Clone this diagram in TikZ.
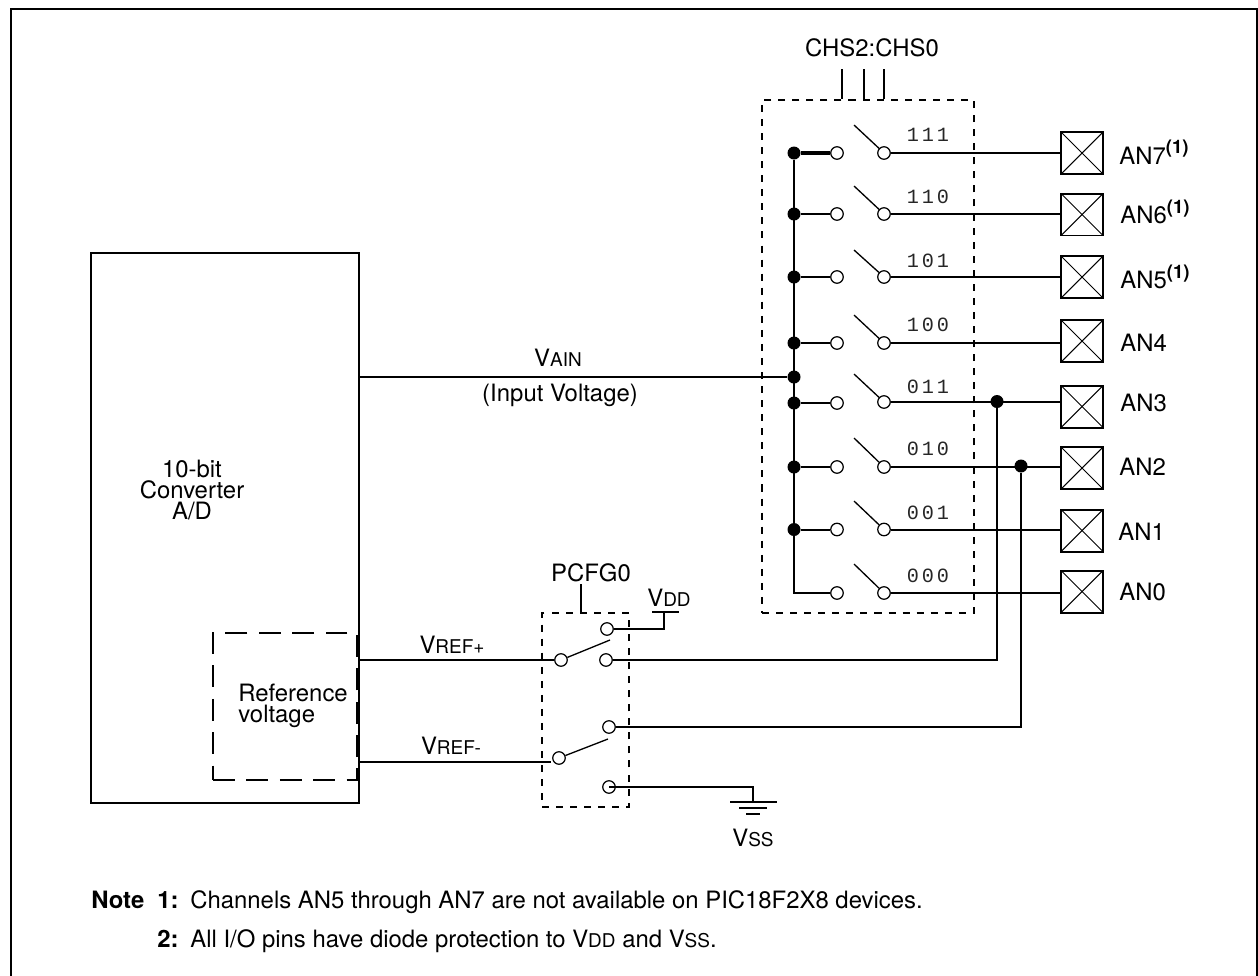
\documentclass[tikz,border=0pt]{standalone}
\usepackage{fontspec}
\setmainfont{TeX Gyre Heros}
\newfontfamily\codefont[LetterSpace=14]{Liberation Mono}
\usetikzlibrary{calc}
\newcommand{\volt}[1]{V{\fontsize{10.8}{10.8}\selectfont #1}}
\newcommand{\fnmark}{\raisebox{0.44em}{\fontsize{10.6}{10.6}\selectfont\bfseries (1)}}
\tikzset{
  wire/.style={line width=1.13pt},
  blade/.style={line width=0.75pt},
  gate/.style={line width=1.13pt, dash pattern=on 4pt off 4pt},
  dot/.style={circle, fill=black, inner sep=0pt, minimum size=0.26cm},
  open/.style={circle, draw, fill=white, line width=0.7pt, inner sep=0pt, minimum size=0.25cm},
  pad/.style={rectangle, draw, line width=1.13pt, inner sep=0pt, minimum width=0.84cm, minimum height=0.84cm,
    path picture={
      \draw[line width=0.6pt] (path picture bounding box.north west) -- (path picture bounding box.south east);
      \draw[line width=0.6pt] (path picture bounding box.south west) -- (path picture bounding box.north east);
    }},
  code/.style={font=\codefont\fontsize{11.5}{11.5}\selectfont, text=black!85, inner sep=0pt},
  txt/.style={inner sep=0pt, align=center, font=\fontsize{13.6}{11.7}\selectfont},
  pin/.style={txt, anchor=west},
  notetxt/.style={txt, anchor=base west},
}

\begin{document}
\begin{tikzpicture}[x=0.02cm, y=-0.02cm]
    \useasboundingbox (0,0) rectangle (1258,975);
    \fill[white] (0,0) rectangle (1258,975);
    \draw[line width=1.3pt] (11,985) -- (11,9) -- (1256.8,9) -- (1256.8,985);

    % converter
    \node[draw, wire, rectangle, minimum width=5.36cm, minimum height=11cm, inner sep=0pt] (adc) at (225,528) {};
    \node[txt] (adclabel) at (192,490) {10-bit\\Converter\\A/D};
    \node[draw, wire, rectangle, dash pattern=on 12.5pt off 6.5pt, minimum width=2.88cm, minimum height=2.94cm, inner sep=0pt] (refbox) at (285,706.5) {};
    \node[txt, align=left, anchor=west] (reflabel) at (238,706) {Reference\\voltage};

    % channel mux
    \node[draw, gate, rectangle, minimum width=4.24cm, minimum height=10.26cm, inner sep=0pt] (muxbox) at (868,356.5) {};
    \node[txt] (chs) at (872,48) {CHS2:CHS0};
    \coordinate (sa) at (842,69);
    \coordinate (sb) at (864,69);
    \coordinate (sc) at (884,69);
    \draw[wire] (sa) -- (sa |- muxbox.north);
    \draw[wire] (sb) -- (sb |- muxbox.north);
    \draw[wire] (sc) -- (sc |- muxbox.north);

    % channel 7
    \node[dot] (b7) at (794,153) {};
    \node[open] (l7) at (837,153) {};
    \node[open] (r7) at (884,153) {};
    \coordinate (t7) at (854,125);
    \node[code] (c7) at (928,135) {111};
    \node[pad] (p7) at (1082,153) {};
    \node[pin] (an7) at (1119,152) {AN7\fnmark};
    \draw[line width=1.8pt] (b7) -- (l7);
    \draw[blade] (t7) -- (r7);
    \draw[wire] (r7) -- (r7 -| p7.west);

    % channel 6
    \node[dot] (b6) at (794,214) {};
    \node[open] (l6) at (837,214) {};
    \node[open] (r6) at (884,214) {};
    \coordinate (t6) at (854,186);
    \node[code] (c6) at (928,197) {110};
    \node[pad] (p6) at (1082,214.5) {};
    \node[pin] (an6) at (1120,212) {AN6\fnmark};
    \draw[wire] (b6) -- (l6);
    \draw[blade] (t6) -- (r6);
    \draw[wire] (r6) -- (r6 -| p6.west);

    % channel 5
    \node[dot] (b5) at (794,277) {};
    \node[open] (l5) at (837,277) {};
    \node[open] (r5) at (884,277) {};
    \coordinate (t5) at (854,250);
    \node[code] (c5) at (928,261) {101};
    \node[pad] (p5) at (1082,277) {};
    \node[pin] (an5) at (1120,277) {AN5\fnmark};
    \draw[wire] (b5) -- (l5);
    \draw[blade] (t5) -- (r5);
    \draw[wire] (r5) -- (r5 -| p5.west);

    % channel 4
    \node[dot] (b4) at (794,343) {};
    \node[open] (l4) at (837,343) {};
    \node[open] (r4) at (884,343) {};
    \coordinate (t4) at (854,315);
    \node[code] (c4) at (928,325) {100};
    \node[pad] (p4) at (1082,341) {};
    \node[pin] (an4) at (1120,343) {AN4};
    \draw[wire] (b4) -- (l4);
    \draw[blade] (t4) -- (r4);
    \draw[wire] (r4) -- (r4 -| p4.west);

    % channel 3
    \node[dot] (b3) at (794,403) {};
    \node[open] (l3) at (837,403) {};
    \node[open] (r3) at (884,402) {};
    \coordinate (t3) at (854,374);
    \node[code] (c3) at (928,387) {011};
    \node[pad] (p3) at (1082,406.5) {};
    \node[pin] (an3) at (1120,403) {AN3};
    \node[dot] (j3) at (997,401.5) {};
    \draw[wire] (b3) -- (l3);
    \draw[blade] (t3) -- (r3);
    \draw[wire] (r3) -- (r3 -| p3.west);

    % channel 2
    \node[dot] (b2) at (794,467) {};
    \node[open] (l2) at (837,467) {};
    \node[open] (r2) at (884,467) {};
    \coordinate (t2) at (854,438);
    \node[code] (c2) at (928,449) {010};
    \node[pad] (p2) at (1082,468) {};
    \node[pin] (an2) at (1119,467) {AN2};
    \node[dot] (j2) at (1021,466) {};
    \draw[wire] (b2) -- (l2);
    \draw[blade] (t2) -- (r2);
    \draw[wire] (r2) -- (r2 -| p2.west);

    % channel 1
    \node[dot] (b1) at (794,529.5) {};
    \node[open] (l1) at (837,529.5) {};
    \node[open] (r1) at (884,529.5) {};
    \coordinate (t1) at (854,501);
    \node[code] (c1) at (928,513) {001};
    \node[pad] (p1) at (1082,530.5) {};
    \node[pin] (an1) at (1118,532) {AN1};
    \draw[wire] (b1) -- (l1);
    \draw[blade] (t1) -- (r1);
    \draw[wire] (r1) -- (r1 -| p1.west);

    % channel 0
    \coordinate (b0) at (794,593);
    \node[open] (l0) at (837,593) {};
    \node[open] (r0) at (884,593) {};
    \coordinate (t0) at (854,564);
    \node[code] (c0) at (928,576) {000};
    \node[pad] (p0) at (1082,591.5) {};
    \node[pin] (an0) at (1119,592) {AN0};
    \draw[blade] (t0) -- (r0);
    \draw[wire] (r0) -- (r0 -| p0.west);

    % bus and analog input
    \draw[wire] (b7) -- (b0) -- (l0);
    \node[dot] (ain) at (794,377) {};
    \draw[wire] (adc.east |- ain) -- (ain);
    \node[txt] (vain) at (558,358) {\volt{AIN}};
    \node[txt] (vainnote) at (560,395) {(Input Voltage)};

    % reference switch
    \node[draw, gate, rectangle, minimum width=1.74cm, minimum height=3.88cm, inner sep=0pt] (cfgbox) at (585.5,710) {};
    \node[txt] (pcfg) at (591,573) {PCFG0};
    \coordinate (pcfgend) at (581,584);
    \draw[wire] (pcfgend) -- (pcfgend |- cfgbox.north);
    \node[open] (sw1) at (561,660) {};
    \node[open] (dd) at (607,629) {};
    \node[open] (rp) at (606,660) {};
    \coordinate (sw1t) at (610,640);
    \draw[blade] (sw1) -- (sw1t);
    \node[open] (sw2) at (559,758) {};
    \node[open] (rm) at (609,727) {};
    \node[open] (ss) at (609,787) {};
    \coordinate (sw2t) at (608,739);
    \draw[blade] (sw2) -- (sw2t);

    % reference wires
    \node[txt] (vrefp) at (452,645) {\volt{REF+}};
    \node[txt] (vrefm) at (451,746) {\volt{REF-}};
    \draw[wire] (adc.east |- sw1) -- (sw1);
    \coordinate (vrefmend) at (551,762);
    \draw[wire] (adc.east |- vrefmend) -- (vrefmend);
    \draw[wire] (rp) -- (j3 |- rp) -- (j3);
    \draw[wire] (rm) -- (j2 |- rm) -- (j2);

    % VDD
    \node[txt] (vdd) at (669,598) {\volt{DD}};
    \coordinate (ddbar) at (664,612);
    \draw[wire] (dd) -- (ddbar |- dd) -- (ddbar);
    \draw[wire] ($(ddbar)+(-12,0)$) -- ($(ddbar)+(15,0)$);

    % VSS
    \coordinate (gnd) at (753,802);
    \draw[wire] (ss.center) -- (gnd |- ss) -- (gnd);
    \draw[wire] ($(gnd)+(-23,0)$) -- ($(gnd)+(24,0)$);
    \draw[wire] ($(gnd)+(-14,6)$) -- ($(gnd)+(14,6)$);
    \draw[wire] ($(gnd)+(-7,12)$) -- ($(gnd)+(7,12)$);
    \node[txt] (vss) at (753,838) {\volt{SS}};

    % notes
    \node[notetxt] (notehead) at (91,908) {\textbf{Note}};
    \node[notetxt] (onehead) at (157,908) {\textbf{1:}};
    \node[notetxt] (noteone) at (190,908) {Channels AN5 through AN7 are not available on PIC18F2X8 devices.};
    \node[notetxt] (twohead) at (157,947) {\textbf{2:}};
    \node[notetxt] (notetwo) at (190,947) {All I/O pins have diode protection to \volt{DD} and \volt{SS}.};
\end{tikzpicture}
\end{document}
